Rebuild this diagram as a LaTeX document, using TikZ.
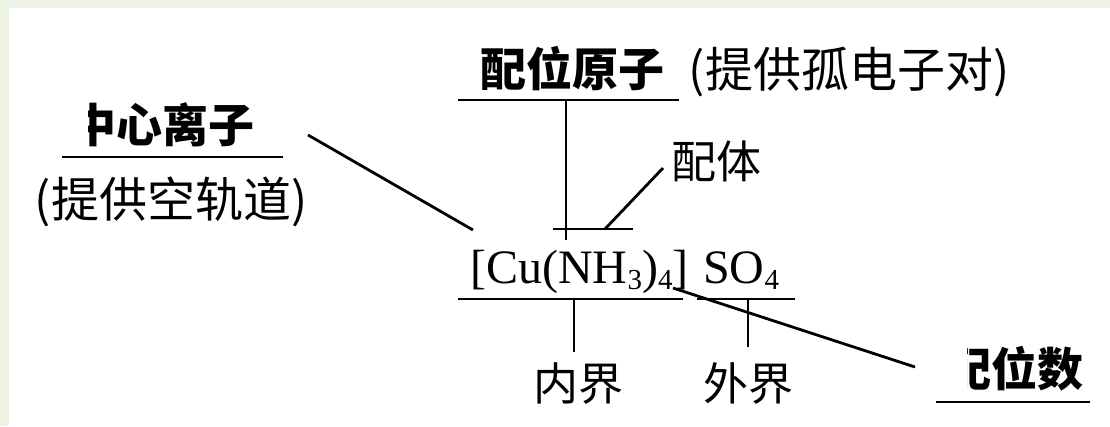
\documentclass[tikz,border=0pt]{standalone}
\usepackage{fontspec}
\setmainfont{Liberation Serif}
\newfontfamily\cjk{Noto Sans CJK SC}
\definecolor{bgreen}{HTML}{EDF3E3}
\tikzset{
  ln/.style={line width=2.8pt, black},
  cjkr/.style={font=\cjk\fontsize{45}{45}\selectfont, inner sep=0pt, anchor=base},
  cjkbig/.style={font=\cjk\fontsize{48}{48}\selectfont, inner sep=0pt, anchor=base},
  cjkbold/.style={font=\cjk\bfseries\fontsize{46}{46}\selectfont, inner sep=0pt, anchor=base},
  chem/.style={font=\fontsize{48}{48}\selectfont, inner sep=0pt, anchor=base west},
}
\newcommand{\sbx}[1]{\raisebox{-6pt}{\fontsize{29}{29}\selectfont #1}}
\begin{document}
\begin{tikzpicture}[x=1pt,y=-1pt]
\useasboundingbox (0,0) rectangle (1110,426);
\fill[bgreen] (0,0) rectangle (1110,426);
\fill[white] (9,8) rectangle (1110,426);

% text nodes
\begin{scope}
  \clip (88,60) rectangle (400,200);
  \node[cjkbold] (zx) at (162,142) {中心离子};
\end{scope}
\node[cjkbig] (tk) at (171,217) {(提供空轨道)};
\node[cjkbold] (pwyz) at (572,86) {配位原子};
\node[cjkbig] (tg) at (849,87) {(提供孤电子对)};
\node[cjkr] (pt) at (716,178) {配体};
\node[chem] (inner) at (470,283) {[Cu(NH\sbx{3})\sbx{4}]};
\node[chem] (outer) at (703,283) {SO\sbx{4}};
\node[cjkr] (nj) at (578,400) {内界};
\node[cjkr] (wj) at (748,400) {外界};
\begin{scope}
  \clip (967,300) rectangle (1110,426);
  \node[cjkbold] (pws) at (1014,386) {配位数};
\end{scope}

% connector end points
\coordinate (zxL) at (62,157);   \coordinate (zxR) at (283,157);
\coordinate (zxA) at (308,135);  \coordinate (zxB) at (473,230);
\coordinate (pwL) at (458,100);  \coordinate (pwR) at (679,100);
\coordinate (pwV) at (566,100);  \coordinate (pwW) at (566,240);
\coordinate (ptL) at (553,229);  \coordinate (ptR) at (633,229);
\coordinate (ptA) at (663,168);  \coordinate (ptB) at (605,229);
\coordinate (inL) at (458,299);  \coordinate (inR) at (683,299);
\coordinate (outL) at (697,299); \coordinate (outR) at (795,299);
\coordinate (inV) at (574,299);  \coordinate (inW) at (574,352);
\coordinate (outV) at (748,299); \coordinate (outW) at (748,347);
\coordinate (pwsA) at (673,288); \coordinate (pwsB) at (915,367);
\coordinate (pwsL) at (936,402); \coordinate (pwsR) at (1090,402);

\draw[ln] (zxL) -- (zxR);
\draw[ln] (zxA) -- (zxB);
\draw[ln] (pwL) -- (pwR);
\draw[ln] (pwV) -- (pwW);
\draw[ln] (ptL) -- (ptR);
\draw[ln] (ptA) -- (ptB);
\draw[ln] (inL) -- (inR);
\draw[ln] (outL) -- (outR);
\draw[ln] (inV) -- (inW);
\draw[ln] (outV) -- (outW);
\draw[ln] (pwsA) -- (pwsB);
\draw[ln] (pwsL) -- (pwsR);
\end{tikzpicture}
\end{document}
